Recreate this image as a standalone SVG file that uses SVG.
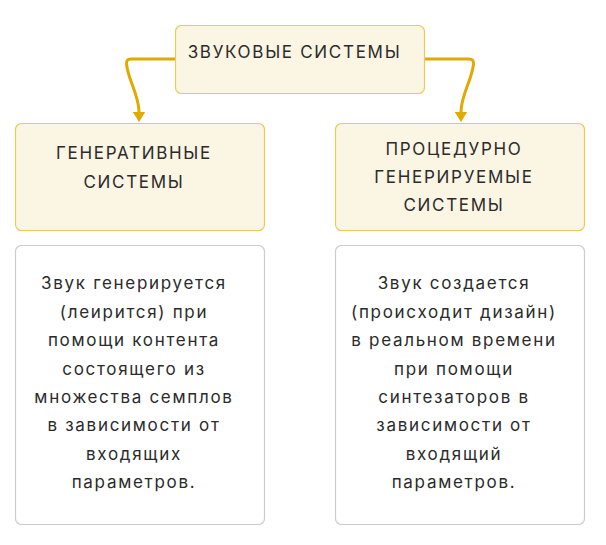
<svg xmlns="http://www.w3.org/2000/svg" width="606" height="545" viewBox="0 0 606 545">
<defs>
<style>
.hdr{fill:#FBF5E4;stroke:#EDC95A;stroke-width:1.2}
.body{fill:#FFFFFF;stroke:#CCCCCC;stroke-width:1.2}
.t{font-family:Inter,"Noto Sans","Liberation Sans",sans-serif;fill:#2B2B2B;text-anchor:middle;letter-spacing:1.7px;font-size:17px}
.c{fill:none;stroke:#E0AA00;stroke-width:3}
</style>
<marker id="ah" markerWidth="11" markerHeight="13" refX="0.5" refY="6.5" orient="auto" markerUnits="userSpaceOnUse">
<path d="M0,0 L10.5,6.5 L0,13 Z" fill="#E0AA00"/>
</marker>
</defs>
<g id="connectors">
<path class="c" d="M175,59 L131,59 Q126,59 126.5,64 C128,80 139,95 139,112" marker-end="url(#ah)"/>
<path class="c" d="M425,59 L469,59 Q474,59 473.5,64 C472,80 461,95 461,112" marker-end="url(#ah)"/>
</g>
<g id="root">
<rect class="hdr" x="175.5" y="25.5" width="249" height="68" rx="6"/>
<text class="t" x="294.5" y="58">ЗВУКОВЫЕ СИСТЕМЫ</text>
</g>
<g id="gen">
<rect class="hdr" x="15.5" y="123.5" width="249" height="107" rx="6"/>
<text class="t" x="134" y="159">ГЕНЕРАТИВНЫЕ</text>
<text class="t" x="134" y="188">СИСТЕМЫ</text>
</g>
<g id="proc">
<rect class="hdr" x="335.5" y="123.5" width="249" height="107" rx="6"/>
<text class="t" x="454" y="155">ПРОЦЕДУРНО</text>
<text class="t" x="454" y="182.5">ГЕНЕРИРУЕМЫЕ</text>
<text class="t" x="454" y="210.5">СИСТЕМЫ</text>
</g>
<g id="gen-desc">
<rect class="body" x="15.5" y="245.5" width="249" height="279" rx="6"/>
<text class="t" x="134" y="289">Звук генерируется</text>
<text class="t" x="134" y="317.5">(леирится) при</text>
<text class="t" x="134" y="346">помощи контента</text>
<text class="t" x="134" y="374.5">состоящего из</text>
<text class="t" x="134" y="403">множества семплов</text>
<text class="t" x="134" y="431">в зависимости от</text>
<text class="t" x="134" y="459.5">входящих</text>
<text class="t" x="134" y="488">параметров.</text>
</g>
<g id="proc-desc">
<rect class="body" x="335.5" y="245.5" width="249" height="279" rx="6"/>
<text class="t" x="454" y="289">Звук создается</text>
<text class="t" x="454" y="317.5">(происходит дизайн)</text>
<text class="t" x="454" y="346">в реальном времени</text>
<text class="t" x="454" y="374.5">при помощи</text>
<text class="t" x="454" y="403">синтезаторов в</text>
<text class="t" x="454" y="431">зависимости от</text>
<text class="t" x="454" y="459.5">входящий</text>
<text class="t" x="454" y="488">параметров.</text>
</g>
</svg>
